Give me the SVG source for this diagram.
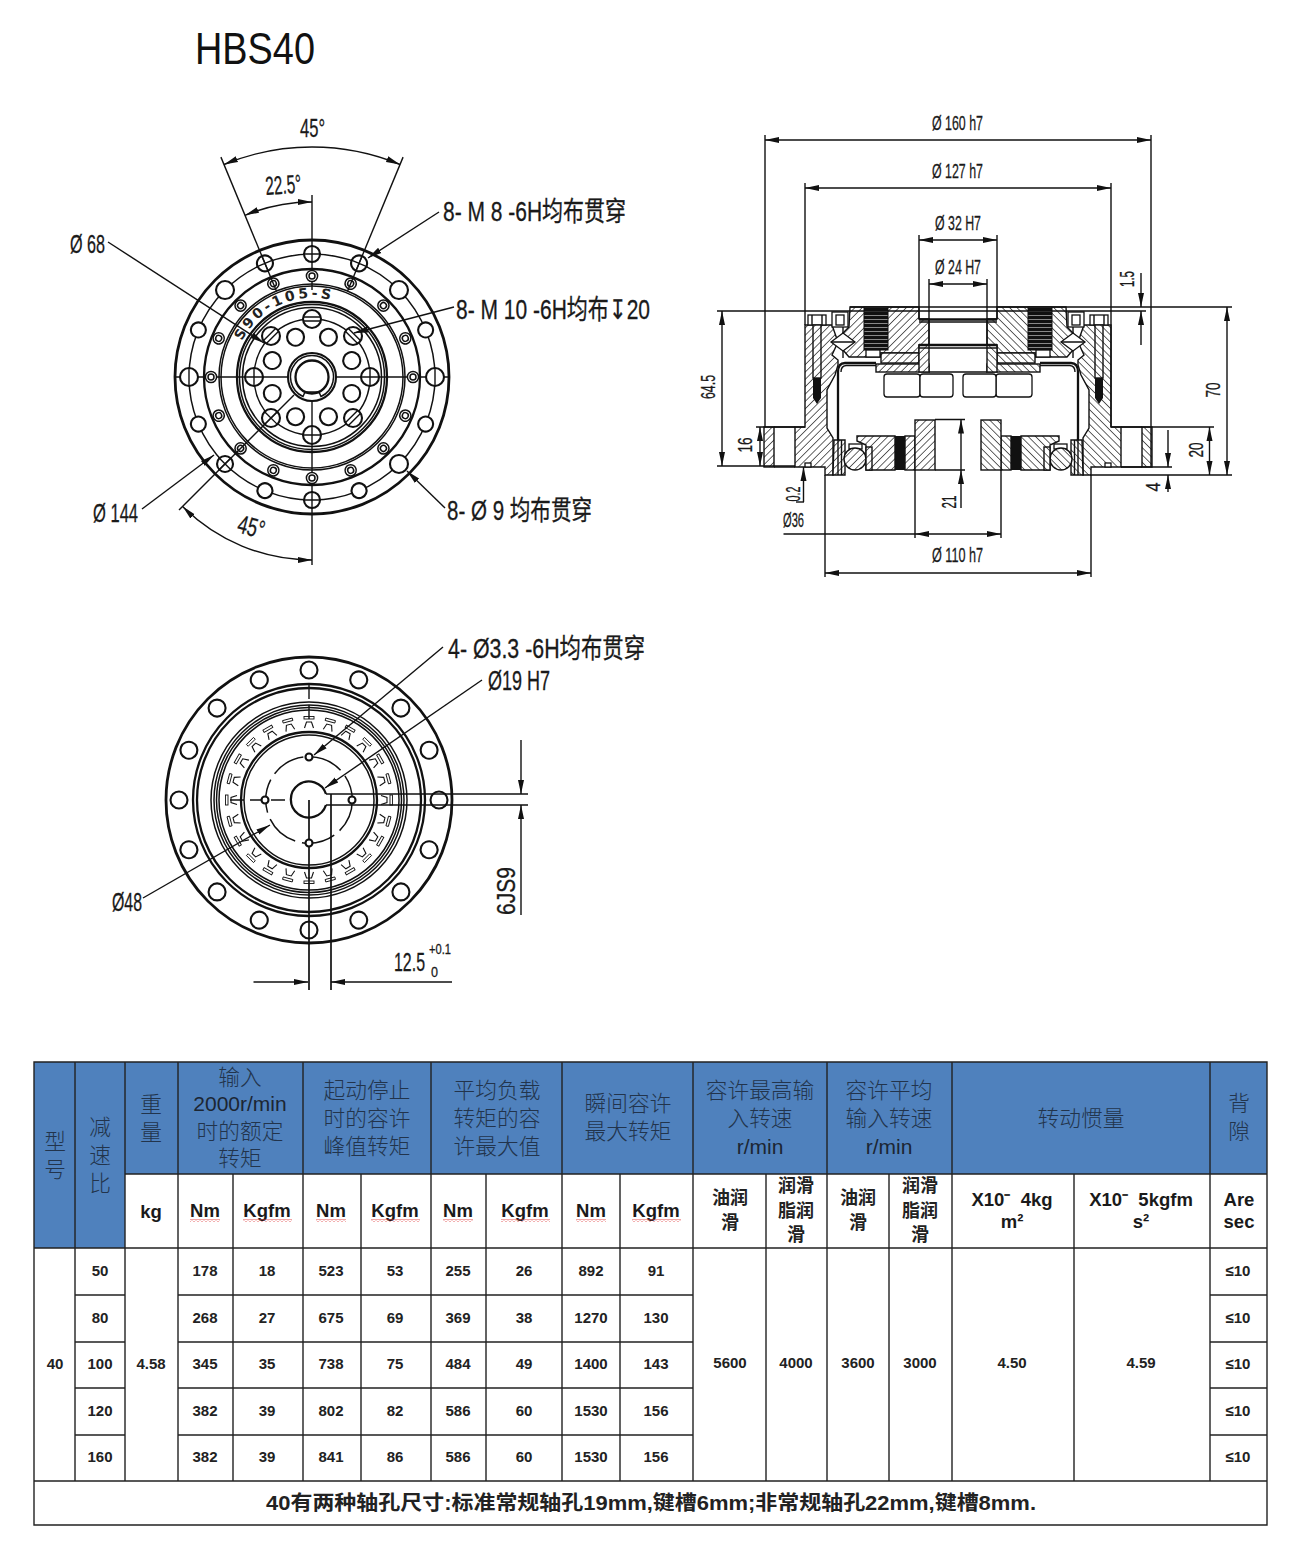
<svg xmlns="http://www.w3.org/2000/svg" xmlns:xlink="http://www.w3.org/1999/xlink" width="1300" height="1554" viewBox="0 0 1300 1554">
<style>
text{font-family:"Liberation Sans","Noto Sans CJK SC",sans-serif;fill:#222}
.t{font-family:"Liberation Sans","Noto Sans CJK SC",sans-serif;font-size:27px;fill:#1a1a1a;stroke:#1a1a1a;stroke-width:.3}
.d{font-size:21px;fill:#1a1a1a;stroke:#1a1a1a;stroke-width:.3}
.m{text-anchor:middle}
.r{fill:none;stroke:#111;stroke-width:1.5}
.k{fill:none;stroke:#111;stroke-width:2.3}
.l{fill:none;stroke:#111;stroke-width:1.4}
.h{fill:#fff;stroke:#111;stroke-width:2.1}
.dim{fill:none;stroke:#111;stroke-width:1.4;marker-start:url(#a);marker-end:url(#a)}
.de{fill:none;stroke:#111;stroke-width:1.4;marker-end:url(#a)}
.ht{fill:url(#ht);stroke:#111;stroke-width:1.4}
.w{fill:#fff;stroke:#111;stroke-width:1.3}
.g{stroke:#222;stroke-width:1.4;fill:none}
.hd{font-family:"Noto Sans CJK SC",sans-serif;font-size:21.7px;font-weight:300;fill:#22344c;text-anchor:middle}
.ha{font-family:"Liberation Sans",sans-serif;font-size:21px;fill:#1c2633;text-anchor:middle}
.s{font-family:"Liberation Sans",sans-serif;font-size:18.5px;font-weight:700;fill:#1a1a1a;text-anchor:middle}
.c{font-family:"Noto Sans CJK SC",sans-serif;font-size:18px;font-weight:700;fill:#222;text-anchor:middle}
.v{font-family:"Liberation Sans",sans-serif;font-size:15px;font-weight:700;fill:#222;text-anchor:middle}
</style>
<defs>
<marker id="a" markerUnits="userSpaceOnUse" markerWidth="15" markerHeight="8" refX="14" refY="4" orient="auto-start-reverse"><path d="M0,1L14,4L0,7Z" fill="#111"/></marker>
<pattern id="ht" width="5.2" height="5.2" patternUnits="userSpaceOnUse" patternTransform="rotate(45)"><rect width="5.2" height="5.2" fill="#fff"/><line x1="0" y1="0" x2="0" y2="5.2" stroke="#222" stroke-width="1.4"/></pattern>
<pattern id="th" width="4" height="4" patternUnits="userSpaceOnUse"><rect width="4" height="4" fill="#111"/><rect y="3" width="4" height="1" fill="#888"/></pattern>
<pattern id="wv" width="4" height="3" patternUnits="userSpaceOnUse"><path d="M0,2.500L2,0.500L4,2.500" fill="none" stroke="#e03a3a" stroke-width="0.9"/></pattern>
<g id="hc"><circle class="h" cx="312" cy="254" r="8"/><path class="l" d="M303,254H321M312,245V263"/></g>
<g id="hb"><circle class="h" cx="312" cy="254" r="7.500"/></g>
<g id="hl"><circle class="h" cx="312" cy="254" r="9"/></g>
<g id="hv"><circle class="h" cx="312" cy="254" r="9"/><path class="l" d="M303,254H321"/></g>
<g id="sm"><circle class="h" cx="312" cy="276" r="5.600" style="stroke-width:1.5"/><circle class="r" cx="312" cy="276" r="3"/></g>
<g id="mc"><circle class="h" cx="312" cy="319" r="9"/><path class="l" d="M303,319H321M312,310V328"/></g>
<g id="mp"><circle class="h" cx="312" cy="319" r="9"/><path class="l" d="M303.500,317H320.500M303.500,321H320.500"/></g>
<g id="mi"><circle class="h" cx="312" cy="334" r="8.500"/></g>
<g id="v"><circle class="h" cx="309" cy="670" r="8.500"/></g>
<g id="tt"><path class="l" style="stroke-width:1.1" d="M304.500,728L306.500,722H311.500L313.500,728"/><rect class="l" style="stroke-width:.9" x="304" y="716.500" width="10" height="2.500"/></g>
<g id="t6"><use href="#tt"/><use href="#tt" transform="rotate(15 309 800)"/><use href="#tt" transform="rotate(30 309 800)"/><use href="#tt" transform="rotate(45 309 800)"/><use href="#tt" transform="rotate(60 309 800)"/><use href="#tt" transform="rotate(75 309 800)"/></g>
<g id="half">
<rect class="ht" x="764" y="427" width="10" height="40"/>
<path class="r" d="M774,427H795M774,467H795"/>
<path class="ht" d="M805,325L832,325L838,342L832,355L838,360L838,365L835,375L827,390L827,428L833,438L833,475L825,475L825,467L795,467L795,427L805,427Z"/>
<rect class="w" x="805" y="463" width="6" height="4"/>
<rect class="w" x="808" y="315" width="18" height="10"/><path class="l" d="M812,315V325M822,315V325"/>
<rect class="ht" x="813" y="325" width="8" height="53"/>
<path d="M813,378L821,378L821,398L817,404L813,398Z" fill="#111"/>
<path class="ht" d="M850,307L919,307L919,319L929,319L929,345L919,345L919,353L881,353L881,357L849,357L843,350L843,333L849,327Z"/>
<rect class="w" x="832" y="312" width="16" height="15"/><rect class="w" x="836" y="315" width="8" height="10"/>
<path class="w" d="M831,342L843,333L855,342L843,351Z"/><path class="l" d="M831,342H855M843,327V333M843,351V358"/>
<rect x="864" y="307" width="24" height="43" fill="url(#th)" stroke="#111"/>
<rect class="w" x="866" y="350" width="14" height="7"/>
<rect class="ht" x="881" y="353" width="38" height="10"/>
<rect class="ht" x="876" y="364" width="53" height="8"/>
<rect class="ht" x="919" y="345" width="10" height="27"/>
<path class="k" d="M919,319.500H958M919,345H958"/><path class="l" d="M919,322H958M919,348H958M929,372H958"/>
<path class="k" d="M876,363L845,363Q838,363 838,372L838,438L841,475"/>
<path class="l" d="M876,365.500L846,365.500Q841,366 841,372"/>
<path class="ht" d="M834,440L845,440L845,475L833,475Z"/><path class="l" d="M838,440V475M841.500,440V475"/>
<rect class="w" x="884" y="374" width="36" height="23" rx="3"/><rect class="w" x="920" y="374" width="33" height="23" rx="3"/>
<path class="ht" d="M857,436L895,436L895,470L866,470L866,445L857,441Z"/>
<rect x="895" y="436" width="10" height="34" fill="#111"/>
<rect class="ht" x="905" y="436" width="10" height="34"/>
<rect class="ht" x="915" y="420" width="20" height="50"/>
<rect class="w" x="849" y="444" width="13" height="5"/>
<circle class="ht" cx="855" cy="459" r="11"/>
<rect class="ht" x="866" y="447" width="6" height="23"/>
</g>
</defs>
<rect width="1300" height="1554" fill="#fff"/>
<text id="title" x="195" y="64" font-size="44" textLength="120" lengthAdjust="spacingAndGlyphs" style="fill:#111">HBS40</text>

<g id="view-front">
<circle class="k" cx="312" cy="377" r="137" style="stroke-width:2.800"/>
<circle class="r" cx="312" cy="377" r="123"/>
<circle class="k" cx="312" cy="377" r="108"/>
<circle class="r" cx="312" cy="377" r="93"/><circle class="r" cx="312" cy="377" r="91"/>
<circle class="k" cx="312" cy="377" r="75"/><circle class="r" cx="312" cy="377" r="72.500"/><circle class="r" cx="312" cy="377" r="69.500"/>
<circle class="r" cx="312" cy="377" r="58"/>
<path id="arc" fill="none" d="M242,341A79,79 0 0 1 351,308"/>
<text style="font-family:'DejaVu Sans',sans-serif;fill:#222" font-size="14" font-weight="700" letter-spacing="3"><textPath href="#arc">S90-105-S</textPath></text>
<path class="l" d="M175,377H450M312,195V290M312,400V565"/>
<use href="#hc"/><use href="#hc" transform="rotate(180 312 377)"/><use href="#hc" transform="rotate(22.5 312 377)"/><use href="#hc" transform="rotate(-22.5 312 377)"/>
<use href="#hl" transform="rotate(45 312 377)"/><use href="#hl" transform="rotate(-45 312 377)"/><use href="#hl" transform="rotate(135 312 377)"/><use href="#hc" transform="rotate(-135 312 377)"/>
<use href="#hb" transform="rotate(67.5 312 377)"/><use href="#hb" transform="rotate(-67.5 312 377)"/><use href="#hb" transform="rotate(112.5 312 377)"/><use href="#hb" transform="rotate(-112.5 312 377)"/><use href="#hb" transform="rotate(157.5 312 377)"/><use href="#hb" transform="rotate(-157.5 312 377)"/>
<use href="#hv" transform="rotate(90 312 377)"/><use href="#hv" transform="rotate(-90 312 377)"/>
<use href="#sm"/><use href="#sm" transform="rotate(22.5 312 377)"/><use href="#sm" transform="rotate(45 312 377)"/><use href="#sm" transform="rotate(67.5 312 377)"/><use href="#sm" transform="rotate(90 312 377)"/><use href="#sm" transform="rotate(112.5 312 377)"/><use href="#sm" transform="rotate(135 312 377)"/><use href="#sm" transform="rotate(157.5 312 377)"/><use href="#sm" transform="rotate(180 312 377)"/><use href="#sm" transform="rotate(202.5 312 377)"/><use href="#sm" transform="rotate(225 312 377)"/><use href="#sm" transform="rotate(247.5 312 377)"/><use href="#sm" transform="rotate(270 312 377)"/><use href="#sm" transform="rotate(292.5 312 377)"/><use href="#sm" transform="rotate(315 312 377)"/><use href="#sm" transform="rotate(337.5 312 377)"/>
<use href="#mp"/><use href="#mp" transform="rotate(45 312 377)"/><use href="#mc" transform="rotate(90 312 377)"/><use href="#mp" transform="rotate(135 312 377)"/><use href="#mc" transform="rotate(180 312 377)"/><use href="#mc" transform="rotate(225 312 377)"/><use href="#mc" transform="rotate(270 312 377)"/><use href="#mp" transform="rotate(315 312 377)"/>
<use href="#mi" transform="rotate(22.5 312 377)"/><use href="#mi" transform="rotate(67.5 312 377)"/><use href="#mi" transform="rotate(112.5 312 377)"/><use href="#mi" transform="rotate(157.5 312 377)"/><use href="#mi" transform="rotate(202.5 312 377)"/><use href="#mi" transform="rotate(247.5 312 377)"/><use href="#mi" transform="rotate(292.5 312 377)"/><use href="#mi" transform="rotate(337.5 312 377)"/>
<circle class="h" cx="312" cy="377" r="24"/>
<path class="r" d="M303,396.500A21.500,21.500 0 1 1 321,396.500L319,392H305Z"/>
<circle class="k" cx="312" cy="377" r="16.500"/>
</g>

<g id="view-rear">
<circle class="k" cx="309" cy="800" r="143" style="stroke-width:2.800"/>
<circle class="k" cx="309" cy="800" r="116"/><circle class="k" cx="309" cy="800" r="112"/>
<circle class="r" cx="309" cy="800" r="98"/><circle class="r" cx="309" cy="800" r="95"/><circle class="r" cx="309" cy="800" r="92.500"/><circle class="r" cx="309" cy="800" r="90"/>
<use href="#t6"/><use href="#t6" transform="rotate(90 309 800)"/><use href="#t6" transform="rotate(180 309 800)"/><use href="#t6" transform="rotate(270 309 800)"/>
<circle class="k" cx="309" cy="800" r="68"/><circle class="r" cx="309" cy="800" r="65"/>
<use href="#v"/><use href="#v" transform="rotate(22.5 309 800)"/><use href="#v" transform="rotate(45 309 800)"/><use href="#v" transform="rotate(67.5 309 800)"/><use href="#v" transform="rotate(90 309 800)"/><use href="#v" transform="rotate(112.5 309 800)"/><use href="#v" transform="rotate(135 309 800)"/><use href="#v" transform="rotate(157.5 309 800)"/><use href="#v" transform="rotate(180 309 800)"/><use href="#v" transform="rotate(202.5 309 800)"/><use href="#v" transform="rotate(225 309 800)"/><use href="#v" transform="rotate(247.5 309 800)"/><use href="#v" transform="rotate(270 309 800)"/><use href="#v" transform="rotate(292.5 309 800)"/><use href="#v" transform="rotate(315 309 800)"/><use href="#v" transform="rotate(337.5 309 800)"/>
<circle class="r" cx="309" cy="800" r="43.300" stroke-dasharray="34 7"/>
<path class="l" d="M230,800H265M271,800H289M309,685V720" stroke-dasharray="14 6"/>
<path class="k" d="M326,794A18,18 0 1 0 326,805"/>
<path class="l" d="M326,794H528M326,805H528" style="stroke-width:1.7"/>
<path class="l" d="M309,800V990M331,794V990" style="stroke-width:1.7"/>
<circle class="h" cx="309" cy="757" r="3.500"/><circle class="h" cx="309" cy="843" r="3.500"/><circle class="h" cx="265" cy="800" r="3.500"/><circle class="h" cx="352" cy="800" r="3.500"/>
</g>

<g id="section">
<use href="#half"/>
<use href="#half" transform="matrix(-1 0 0 1 1916 0)"/>
<path class="r" d="M935,419.500H965M935,470H965"/>
</g>

<g id="connectors">
<line class="l" x1="312" y1="139" x2="312" y2="284" transform="rotate(-22.5 312 377)"/>
<line class="l" x1="312" y1="139" x2="312" y2="284" transform="rotate(22.5 312 377)"/>
<path class="dim" d="M224,164.500A230,230 0 0 1 400,164.500"/>
<path class="dim" d="M245,215.300A175,175 0 0 1 312,202"/>
<path class="dim" d="M182.600,506.400A183,183 0 0 0 312,560"/>
<path class="l" d="M294,395L179,510"/>
<path class="de" d="M108,242L264,343"/>
<path class="de" d="M142,509L214,455"/>
<path class="de" d="M439,212L368,258"/>
<path class="de" d="M454,307L354,333"/>
<path class="de" d="M445,508L407,471"/>
<path class="de" d="M443,647L314,755"/>
<path class="de" d="M482,680L325,788"/>
<path class="de" d="M143,898L270,825"/>
<path class="de" d="M521,740V794"/>
<path class="de" d="M521,915V805"/>
<path class="de" d="M253.500,982H308"/>
<path class="de" d="M452,982H331"/>
<path class="l" d="M765,135V427M1151,135V467M805,183V325M1111,183V427M919,235V319M997,235V319M929,279V345M987,279V345"/>
<path class="dim" d="M765,140H1151"/>
<path class="dim" d="M805,188H1111"/>
<path class="dim" d="M919,240H997"/>
<path class="dim" d="M929,284H987"/>
<path class="l" d="M850,307H1232M717,311H1146M756,427H805M717,466H795M1111,427H1214M1121,467H1172M1090,475H1232"/>
<path class="de" d="M1141,273V307"/>
<path class="de" d="M1141,345V311"/>
<path class="dim" d="M1227,307V475"/>
<path class="dim" d="M1209.500,427V475"/>
<path class="de" d="M1168,430V467"/>
<path class="de" d="M1168,492V475"/>
<path class="dim" d="M722,311V466"/>
<path class="dim" d="M760,427V466"/>
<path class="de" d="M803.500,502V467"/>
<path class="l" d="M796,502H804"/>
<path class="de" d="M961,508V470"/>
<path class="de" d="M961,470V419.500"/>
<path class="l" d="M915,470V538M1001,470V538M825,475V577M1091,475V577M783.500,534H915"/>
<path class="dim" d="M915,534H1001"/>
<path class="dim" d="M825,573H1091"/>
</g>

<g id="labels">
<text class="t" x="443" y="221" textLength="183" lengthAdjust="spacingAndGlyphs">8- M 8 -6H均布贯穿</text>
<text class="t" x="456" y="319" textLength="194" lengthAdjust="spacingAndGlyphs">8- M 10 -6H均布↧20</text>
<text class="t" x="447" y="520" textLength="145" lengthAdjust="spacingAndGlyphs">8- Ø 9 均布贯穿</text>
<text class="t" x="448" y="658" textLength="197" lengthAdjust="spacingAndGlyphs">4- Ø3.3 -6H均布贯穿</text>
<text class="t" x="488" y="690" textLength="62" lengthAdjust="spacingAndGlyphs">Ø19 H7</text>
<text class="t" x="112" y="911" textLength="30" lengthAdjust="spacingAndGlyphs" style="font-size:25px">Ø48</text>
<text class="t" x="70" y="253" textLength="35" lengthAdjust="spacingAndGlyphs" style="font-size:26px">Ø 68</text>
<text class="t" x="93" y="522" textLength="45" lengthAdjust="spacingAndGlyphs" style="font-size:26px">Ø 144</text>
<text class="t" x="300" y="137" textLength="25" lengthAdjust="spacingAndGlyphs" style="font-size:26px">45°</text>
<text class="t" transform="translate(266,195) rotate(-4)" textLength="36" lengthAdjust="spacingAndGlyphs" style="font-size:26px">22.5°</text>
<text class="t" transform="translate(236,532) rotate(15)" textLength="27" lengthAdjust="spacingAndGlyphs" style="font-size:26px">45°</text>
<text class="d" x="932" y="130" textLength="51" lengthAdjust="spacingAndGlyphs">Ø 160 h7</text>
<text class="d" x="932" y="178" textLength="51" lengthAdjust="spacingAndGlyphs">Ø 127 h7</text>
<text class="d" x="935" y="230" textLength="46" lengthAdjust="spacingAndGlyphs">Ø 32 H7</text>
<text class="d" x="935" y="274" textLength="46" lengthAdjust="spacingAndGlyphs">Ø 24 H7</text>
<text class="d" x="932" y="562" textLength="51" lengthAdjust="spacingAndGlyphs">Ø 110 h7</text>
<text class="d m" transform="translate(715,387) rotate(-90)" textLength="24" lengthAdjust="spacingAndGlyphs">64.5</text>
<text class="d m" transform="translate(752,445) rotate(-90)" textLength="15" lengthAdjust="spacingAndGlyphs">16</text>
<text class="d m" transform="translate(1220,390) rotate(-90)" textLength="15" lengthAdjust="spacingAndGlyphs">70</text>
<text class="d m" transform="translate(1203,450) rotate(-90)" textLength="15" lengthAdjust="spacingAndGlyphs">20</text>
<text class="d m" transform="translate(1160,487) rotate(-90)" textLength="9" lengthAdjust="spacingAndGlyphs">4</text>
<text class="d m" transform="translate(1134,279) rotate(-90)" textLength="16" lengthAdjust="spacingAndGlyphs">1.5</text>
<text class="d m" transform="translate(800,494) rotate(-90)" textLength="15" lengthAdjust="spacingAndGlyphs">0.2</text>
<text class="d m" transform="translate(956,502) rotate(-90)" textLength="13" lengthAdjust="spacingAndGlyphs">21</text>
<text class="d" x="783" y="527" textLength="21" lengthAdjust="spacingAndGlyphs">Ø36</text>
<text class="t m" transform="translate(515,891) rotate(-90)" textLength="48" lengthAdjust="spacingAndGlyphs" style="font-size:25px">6JS9</text>
<text class="t" x="394" y="971" textLength="31" lengthAdjust="spacingAndGlyphs" style="font-size:26px">12.5</text>
<text class="d" x="429" y="954" textLength="22" lengthAdjust="spacingAndGlyphs" style="font-size:15px">+0.1</text>
<text class="d" x="431" y="977" textLength="7" lengthAdjust="spacingAndGlyphs" style="font-size:15px">0</text>
</g>

<g id="table">
<path d="M34,1062H125V1248H34ZM125,1062H1267V1174H125Z" fill="#4f81bd"/>
<path class="g" d="M34,1062H1267V1525H34ZM125,1174H1267M34,1248H1267M75,1295H125M178,1295H693M1210,1295H1267M75,1342H125M178,1342H693M1210,1342H1267M75,1388H125M178,1388H693M1210,1388H1267M75,1435H125M178,1435H693M1210,1435H1267M34,1481H1267M75,1062V1481M125,1062V1481M178,1062V1481M303,1062V1481M431,1062V1481M562,1062V1481M693,1062V1481M827,1062V1481M952,1062V1481M1210,1062V1481M233,1174V1481M361,1174V1481M486,1174V1481M620,1174V1481M766,1174V1481M889,1174V1481M1074,1174V1481"/>
<g>
<text class="hd" x="55" y="1149">型</text><text class="hd" x="55" y="1177">号</text>
<text class="hd" x="100" y="1135">减</text><text class="hd" x="100" y="1163">速</text><text class="hd" x="100" y="1191">比</text>
<text class="hd" x="151" y="1112">重</text><text class="hd" x="151" y="1140">量</text>
<text class="hd" x="240" y="1085">输入</text><text class="ha" x="240" y="1111">2000r/min</text><text class="hd" x="240" y="1139">时的额定</text><text class="hd" x="240" y="1166">转矩</text>
<text class="hd" x="367" y="1098">起动停止</text><text class="hd" x="367" y="1126">时的容许</text><text class="hd" x="367" y="1154">峰值转矩</text>
<text class="hd" x="497" y="1098">平均负载</text><text class="hd" x="497" y="1126">转矩的容</text><text class="hd" x="497" y="1154">许最大值</text>
<text class="hd" x="628" y="1111">瞬间容许</text><text class="hd" x="628" y="1139">最大转矩</text>
<text class="hd" x="760" y="1098">容许最高输</text><text class="hd" x="760" y="1126">入转速</text><text class="ha" x="760" y="1154">r/min</text>
<text class="hd" x="889" y="1098">容许平均</text><text class="hd" x="889" y="1126">输入转速</text><text class="ha" x="889" y="1154">r/min</text>
<text class="hd" x="1081" y="1126">转动惯量</text>
<text class="hd" x="1239" y="1111">背</text><text class="hd" x="1239" y="1139">隙</text>
</g>
<g>
<text class="s" x="151" y="1218">kg</text>
<text class="s" x="205" y="1217">Nm</text><text class="s" x="267" y="1217">Kgfm</text>
<text class="s" x="331" y="1217">Nm</text><text class="s" x="395" y="1217">Kgfm</text>
<text class="s" x="458" y="1217">Nm</text><text class="s" x="525" y="1217">Kgfm</text>
<text class="s" x="591" y="1217">Nm</text><text class="s" x="656" y="1217">Kgfm</text>
<rect x="190" y="1219" width="30" height="3" fill="url(#wv)"/><rect x="243" y="1219" width="49" height="3" fill="url(#wv)"/>
<rect x="316" y="1219" width="30" height="3" fill="url(#wv)"/><rect x="371" y="1219" width="49" height="3" fill="url(#wv)"/>
<rect x="443" y="1219" width="30" height="3" fill="url(#wv)"/><rect x="501" y="1219" width="49" height="3" fill="url(#wv)"/>
<rect x="576" y="1219" width="30" height="3" fill="url(#wv)"/><rect x="632" y="1219" width="49" height="3" fill="url(#wv)"/>
<text class="c" x="730" y="1204">油润</text><text class="c" x="730" y="1229">滑</text>
<text class="c" x="796" y="1192">润滑</text><text class="c" x="796" y="1217">脂润</text><text class="c" x="796" y="1241">滑</text>
<text class="c" x="858" y="1204">油润</text><text class="c" x="858" y="1229">滑</text>
<text class="c" x="920" y="1192">润滑</text><text class="c" x="920" y="1217">脂润</text><text class="c" x="920" y="1241">滑</text>
<text class="s" x="1012" y="1206" xml:space="preserve">X10⁻  4kg</text><text class="s" x="1012" y="1228">m²</text>
<text class="s" x="1141" y="1206" xml:space="preserve">X10⁻  5kgfm</text><text class="s" x="1141" y="1228">s²</text>
<text class="s" x="1239" y="1206">Are</text><text class="s" x="1239" y="1228">sec</text>
</g>
<g transform="translate(0,-0.6)">
<text class="v" x="55" y="1370">40</text><text class="v" x="151" y="1370">4.58</text>
<text class="v" x="100" y="1277">50</text><text class="v" x="100" y="1324">80</text><text class="v" x="100" y="1370">100</text><text class="v" x="100" y="1417">120</text><text class="v" x="100" y="1463">160</text>
<text class="v" x="205" y="1277">178</text><text class="v" x="267" y="1277">18</text><text class="v" x="331" y="1277">523</text><text class="v" x="395" y="1277">53</text><text class="v" x="458" y="1277">255</text><text class="v" x="524" y="1277">26</text><text class="v" x="591" y="1277">892</text><text class="v" x="656" y="1277">91</text>
<text class="v" x="205" y="1324">268</text><text class="v" x="267" y="1324">27</text><text class="v" x="331" y="1324">675</text><text class="v" x="395" y="1324">69</text><text class="v" x="458" y="1324">369</text><text class="v" x="524" y="1324">38</text><text class="v" x="591" y="1324">1270</text><text class="v" x="656" y="1324">130</text>
<text class="v" x="205" y="1370">345</text><text class="v" x="267" y="1370">35</text><text class="v" x="331" y="1370">738</text><text class="v" x="395" y="1370">75</text><text class="v" x="458" y="1370">484</text><text class="v" x="524" y="1370">49</text><text class="v" x="591" y="1370">1400</text><text class="v" x="656" y="1370">143</text>
<text class="v" x="205" y="1417">382</text><text class="v" x="267" y="1417">39</text><text class="v" x="331" y="1417">802</text><text class="v" x="395" y="1417">82</text><text class="v" x="458" y="1417">586</text><text class="v" x="524" y="1417">60</text><text class="v" x="591" y="1417">1530</text><text class="v" x="656" y="1417">156</text>
<text class="v" x="205" y="1463">382</text><text class="v" x="267" y="1463">39</text><text class="v" x="331" y="1463">841</text><text class="v" x="395" y="1463">86</text><text class="v" x="458" y="1463">586</text><text class="v" x="524" y="1463">60</text><text class="v" x="591" y="1463">1530</text><text class="v" x="656" y="1463">156</text>
<text class="v" x="730" y="1369">5600</text><text class="v" x="796" y="1369">4000</text><text class="v" x="858" y="1369">3600</text><text class="v" x="920" y="1369">3000</text><text class="v" x="1012" y="1369">4.50</text><text class="v" x="1141" y="1369">4.59</text>
<text class="v" x="1238" y="1277">≤10</text><text class="v" x="1238" y="1324">≤10</text><text class="v" x="1238" y="1370">≤10</text><text class="v" x="1238" y="1417">≤10</text><text class="v" x="1238" y="1463">≤10</text>
</g>
<text x="651" y="1510" text-anchor="middle" font-size="20" font-weight="700" textLength="770" lengthAdjust="spacingAndGlyphs" style="fill:#222">40有两种轴孔尺寸:标准常规轴孔19mm,键槽6mm;非常规轴孔22mm,键槽8mm.</text>
</g>
</svg>
